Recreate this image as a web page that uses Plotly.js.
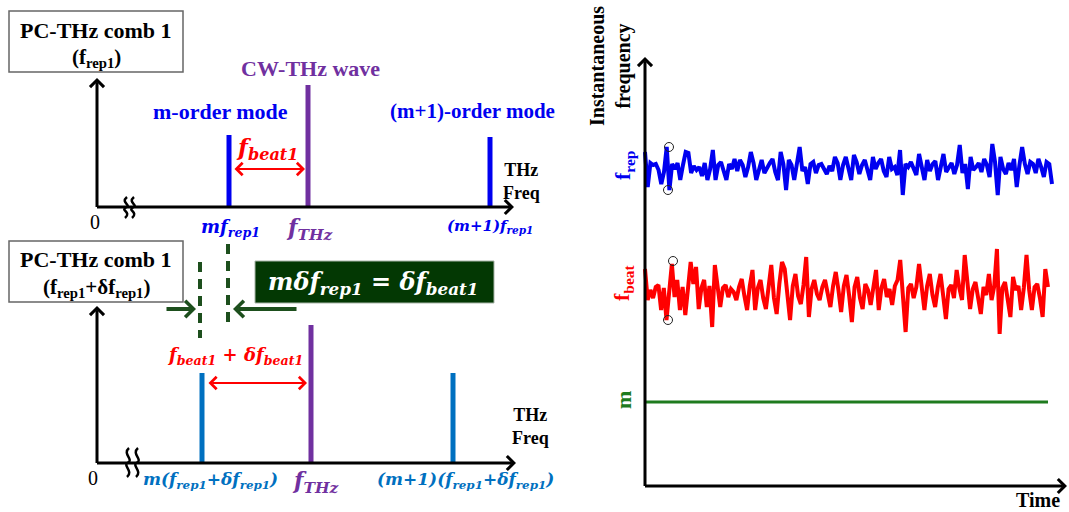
<!DOCTYPE html>
<html><head><meta charset="utf-8">
<script src="https://cdn.plot.ly/plotly-3.0.1.min.js"></script>
<style>html,body{margin:0;padding:0;background:#fff;overflow:hidden}</style>
</head><body><div id="chart" style="width:1069px;height:512px"></div>
<script>
// ================= DATA =================
// Upper spectrum: PC-THz comb 1 (f_rep1) with CW-THz wave
const topModeNames = ['m-order mode', 'CW-THz wave', '(m+1)-order mode'];
const topModeFreq = [132, 211, 393];           // position along THz freq axis (a.u. from 0)
const topModeAmp = [72, 122, 70];              // line heights (a.u.)
const topFreqLabels = ['mf<sub>rep1</sub>', 'f<sub>THz</sub>', '(m+1)f<sub>rep1</sub>'];

// Lower spectrum: PC-THz comb 1 (f_rep1 + δf_rep1) with CW-THz wave
const lowModeFreq = [105, 214, 356];
const lowModeAmp = [90, 138, 90];
const lowFreqLabels = ['m(f<sub>rep1</sub>+δf<sub>rep1</sub>)', 'f<sub>THz</sub>', '(m+1)(f<sub>rep1</sub>+δf<sub>rep1</sub>)'];

// Instantaneous frequency vs time (deviation from mean, a.u.)
const seriesNames = ['f<sub>rep</sub>', 'f<sub>beat</sub>', 'm'];
const frepNoise = [15,-20,4,2,3,-3,-17,-5,20,-23, 3,-2,4,-13,2,15,14,-6,1,-3,
  0,-9,4,-13,-2,17,-13,2,5,-4, -13,3,-2,8,-4,7,2,-10,0,15,
  4,-13,-3,7,-6,0,4,8,-5,-13, 15,3,-23,7,2,-13,4,20,-4,0,
  -17,3,5,-6,2,3,-2,-7,1,-4, 10,4,-13,2,10,-3,-13,12,5,-7,
  2,7,-3,-13,10,-2,4,8,-4,-10, 10,-2,0,-8,17,-28,3,0,5,-3,
  -8,13,2,-13,7,-4,3,6,-13,0, 13,-5,0,4,-7,2,22,-6,3,-22,
  10,-3,0,4,-5,8,2,-10,23,5, -28,10,-2,-7,4,-3,8,-20,2,20,
  3,-7,5,3,-6,8,0,-10,5,3,-17];
const fbeatNoise = [23,-8,2,-6,5,7,-18,4,-28,6, 28,-5,12,-18,5,-23,3,30,8,25,
  -17,4,12,-15,6,-35,27,2,-15,4, 7,-5,3,0,-8,5,13,-4,-18,6,
  22,-18,4,12,-6,-17,5,27,-6,-22, 8,30,23,-5,-28,6,18,-4,-12,7,
  35,-25,3,12,-2,-8,5,12,-3,-15, 6,20,2,-20,6,17,-4,-30,5,15,
  -6,-17,8,2,-13,6,22,-18,4,13, -5,3,-13,6,12,32,-8,-40,4,8,
  -6,5,28,2,-18,6,18,-3,-15,5, 18,-4,-27,3,7,-6,22,4,-8,37,
  5,-17,3,10,-6,-22,5,-3,18,-8, 6,43,-42,4,10,-6,-25,15,2,6,
  -18,4,37,2,-18,5,8,-6,-25,23,5];
const mTrace = [0, 0];
const circledPoints = {frep: [20, -23], fbeat: [28, -28]};

// ================= LAYOUT CONSTANTS =================
const SERIF = 'Liberation Serif';
const MATH = 'DejaVu Serif';
const BLUE = '#0000f0', PURPLE = '#7030a0', RED = '#ff0000', STEEL = '#0070c0';
const GREEN = '#1e7b1e';

const TOP = {x0: 97, base: 207, tipX: 514, tipY: 78};
const LOW = {x0: 97, base: 463, tipX: 516, tipY: 306};
const RIGHT = {x0: 645, base: 486, tipX: 1067, tipY: 57, xEnd: [1052, 1048, 1048], level: [167, 292, 402]};

const traces = [];
const shapes = [];
const ann = [];

function txt(x, y, text, size, color, o) {
  o = o || {};
  return Object.assign({x, y, xref: 'x', yref: 'y', text, showarrow: false,
    font: {family: o.family || SERIF, size, color, weight: o.weight || 'bold', style: o.style || 'normal'},
    xanchor: 'center', yanchor: 'middle', textangle: o.angle || 0}, o.extra || {});
}
function arrow(x0, y0, x1, y1, color, width, size, both) {
  return {x: x1, y: y1, ax: x0, ay: y0, xref: 'x', yref: 'y', axref: 'x', ayref: 'y', text: '',
    showarrow: true, arrowhead: 4, arrowsize: size, arrowwidth: width, arrowcolor: color,
    standoff: 0, startstandoff: 0, arrowside: both ? 'end+start' : 'end', startarrowhead: 4, startarrowsize: size};
}
function breakMark(x, y0, y1) {
  const m = (y0 + y1) / 2;
  return {type: 'path', xref: 'x', yref: 'y', line: {color: '#000', width: 2.5},
    path: `M ${x + 1},${y0} C ${x - 6},${y0 + 6} ${x + 6},${m - 3} ${x},${m} C ${x - 6},${m + 3} ${x + 6},${y1 - 6} ${x - 1},${y1}`};
}

// ---------- upper spectrum ----------
shapes.push({type: 'rect', xref: 'x', yref: 'y', x0: 9, x1: 183, y0: 11, y1: 72, line: {color: '#666', width: 1.5}});
ann.push(txt(96, 30, 'PC-THz comb 1', 22, '#000'));
ann.push(txt(96, 58, '(f<sub>rep1</sub>)', 21, '#000'));
ann.push(arrow(TOP.x0, TOP.base + 1.5, TOP.x0, TOP.tipY, '#000', 3, 0.9));
ann.push(arrow(TOP.x0 - 1.5, TOP.base, TOP.tipX, TOP.base, '#000', 3, 0.9));
shapes.push(breakMark(126, 197, 218));
shapes.push(breakMark(133, 197, 218));
ann.push(txt(95, 222, '0', 20, '#000', {weight: 'normal'}));
ann.push(txt(521, 181, 'THz<br>Freq', 18, '#000'));

const topColors = [BLUE, PURPLE, BLUE];
topModeFreq.forEach((f, i) => {
  const x = TOP.x0 + f;
  traces.push({type: 'scatter', mode: 'lines', x: [x, x], y: [TOP.base, TOP.base - topModeAmp[i]],
    line: {color: topColors[i], width: 5}, hoverinfo: 'skip'});
});
ann.push(txt(220, 111, topModeNames[0], 22, BLUE));
ann.push(txt(310, 68, topModeNames[1], 22, PURPLE));
ann.push(txt(472, 111, topModeNames[2], 21, BLUE));
ann.push(arrow(TOP.x0 + topModeFreq[0] + 4, 169, TOP.x0 + topModeFreq[1] - 3, 169, RED, 2, 1.2, true));
ann.push(txt(267, 148, 'f<sub>beat1</sub>', 23, RED, {family: MATH, style: 'italic'}));
ann.push(txt(TOP.x0 + topModeFreq[0] + 1, 228, topFreqLabels[0], 18, BLUE, {family: MATH, style: 'italic'}));
ann.push(txt(TOP.x0 + topModeFreq[1] + 1, 229, topFreqLabels[1], 22, PURPLE, {family: MATH, style: 'italic'}));
ann.push(txt(TOP.x0 + topModeFreq[2], 226, topFreqLabels[2], 15, BLUE, {family: MATH, style: 'italic'}));

// ---------- lower spectrum ----------
shapes.push({type: 'rect', xref: 'x', yref: 'y', x0: 9, x1: 183, y0: 241, y1: 302, line: {color: '#666', width: 1.5}});
ann.push(txt(96, 259, 'PC-THz comb 1', 22, '#000'));
ann.push(txt(96, 288, '(f<sub>rep1</sub>+δf<sub>rep1</sub>)', 21, '#000'));
shapes.push({type: 'rect', xref: 'x', yref: 'y', x0: 255, x1: 494, y0: 261, y1: 303, fillcolor: '#033803', line: {color: '#a9b5a9', width: 1}});
ann.push(txt(373, 283, 'mδf<sub>rep1</sub> = δf<sub>beat1</sub>', 24, '#fff', {family: MATH, style: 'italic'}));
shapes.push({type: 'line', xref: 'x', yref: 'y', x0: 200, x1: 200, y0: 262, y1: 338, line: {color: '#1d4f1d', width: 4, dash: '10px,7px'}});
shapes.push({type: 'line', xref: 'x', yref: 'y', x0: 228, x1: 228, y0: 244, y1: 323, line: {color: '#1d4f1d', width: 4, dash: '10px,7px'}});
ann.push(arrow(165, 309, 196, 309, '#1d4f1d', 4, 0.8));
ann.push(arrow(298, 309, 233, 309, '#1d4f1d', 4, 0.8));
ann.push(txt(235, 356, 'f<sub>beat1</sub> + δf<sub>beat1</sub>', 18, RED, {family: MATH, style: 'italic'}));

ann.push(arrow(LOW.x0, LOW.base + 1.5, LOW.x0, LOW.tipY, '#000', 3, 0.9));
ann.push(arrow(LOW.x0 - 1.5, LOW.base, LOW.tipX, LOW.base, '#000', 3, 0.9));
shapes.push(breakMark(128, 448, 477));
shapes.push(breakMark(137, 448, 477));
ann.push(txt(93, 478, '0', 20, '#000', {weight: 'normal'}));
ann.push(txt(530, 426, 'THz<br>Freq', 18, '#000'));

const lowColors = [STEEL, PURPLE, STEEL];
lowModeFreq.forEach((f, i) => {
  const x = LOW.x0 + f;
  traces.push({type: 'scatter', mode: 'lines', x: [x, x], y: [LOW.base, LOW.base - lowModeAmp[i]],
    line: {color: lowColors[i], width: 5}, hoverinfo: 'skip'});
});
ann.push(arrow(LOW.x0 + lowModeFreq[0] + 5, 383, LOW.x0 + lowModeFreq[1] - 4, 383, RED, 2, 1.2, true));
ann.push(txt(210, 480, lowFreqLabels[0], 17, STEEL, {family: MATH, style: 'italic'}));
ann.push(txt(315, 482, lowFreqLabels[1], 22, PURPLE, {family: MATH, style: 'italic'}));
ann.push(txt(465, 480, lowFreqLabels[2], 17, STEEL, {family: MATH, style: 'italic'}));

// ---------- right: instantaneous frequency vs time ----------
ann.push(arrow(RIGHT.x0, RIGHT.base + 1.5, RIGHT.x0, RIGHT.tipY, '#000', 3, 0.9));
ann.push(arrow(RIGHT.x0 - 1.5, RIGHT.base, RIGHT.tipX, RIGHT.base, '#000', 3, 0.9));
ann.push(txt(610, 66, 'Instantaneous<br>frequency', 20, '#000', {angle: -90}));
ann.push(txt(1038, 500, 'Time', 20, '#000'));

const noiseSets = [frepNoise, fbeatNoise];
const noiseColors = [BLUE, RED];
noiseSets.forEach((vals, k) => {
  const n = vals.length;
  const dx = (RIGHT.xEnd[k] - RIGHT.x0) / (n - 1);
  traces.push({type: 'scatter', mode: 'lines', x: vals.map((v, i) => RIGHT.x0 + i * dx),
    y: vals.map(v => RIGHT.level[k] - v), line: {color: noiseColors[k], width: 4}, hoverinfo: 'skip'});
});
traces.push({type: 'scatter', mode: 'lines', x: [RIGHT.x0, RIGHT.xEnd[2]], y: mTrace.map(v => RIGHT.level[2] - v),
  line: {color: GREEN, width: 3}, hoverinfo: 'skip'});

ann.push(txt(624, 166, seriesNames[0], 22, BLUE, {angle: -90}));
ann.push(txt(623, 283, seriesNames[1], 22, RED, {angle: -90}));
ann.push(txt(623, 400, seriesNames[2], 22, GREEN, {angle: -90}));

// circles marking extremes
function circ(cx, cy) {
  return {type: 'circle', xref: 'x', yref: 'y', x0: cx - 4.5, x1: cx + 4.5, y0: cy - 4.5, y1: cy + 4.5, line: {color: '#222', width: 1}};
}
shapes.push(circ(669, RIGHT.level[0] - circledPoints.frep[0] - 0));
shapes.push(circ(668, RIGHT.level[0] - circledPoints.frep[1]));
shapes.push(circ(673, RIGHT.level[1] - circledPoints.fbeat[0] - 3));
shapes.push(circ(668, RIGHT.level[1] - circledPoints.fbeat[1]));

const layout = {
  width: 1069, height: 512, margin: {l: 0, r: 0, t: 0, b: 0},
  paper_bgcolor: '#fff', plot_bgcolor: '#fff', showlegend: false,
  xaxis: {range: [0, 1069], visible: false, fixedrange: true},
  yaxis: {range: [512, 0], visible: false, fixedrange: true},
  shapes, annotations: ann
};
Plotly.newPlot('chart', traces, layout, {staticPlot: true, displayModeBar: false});
</script></body></html>
